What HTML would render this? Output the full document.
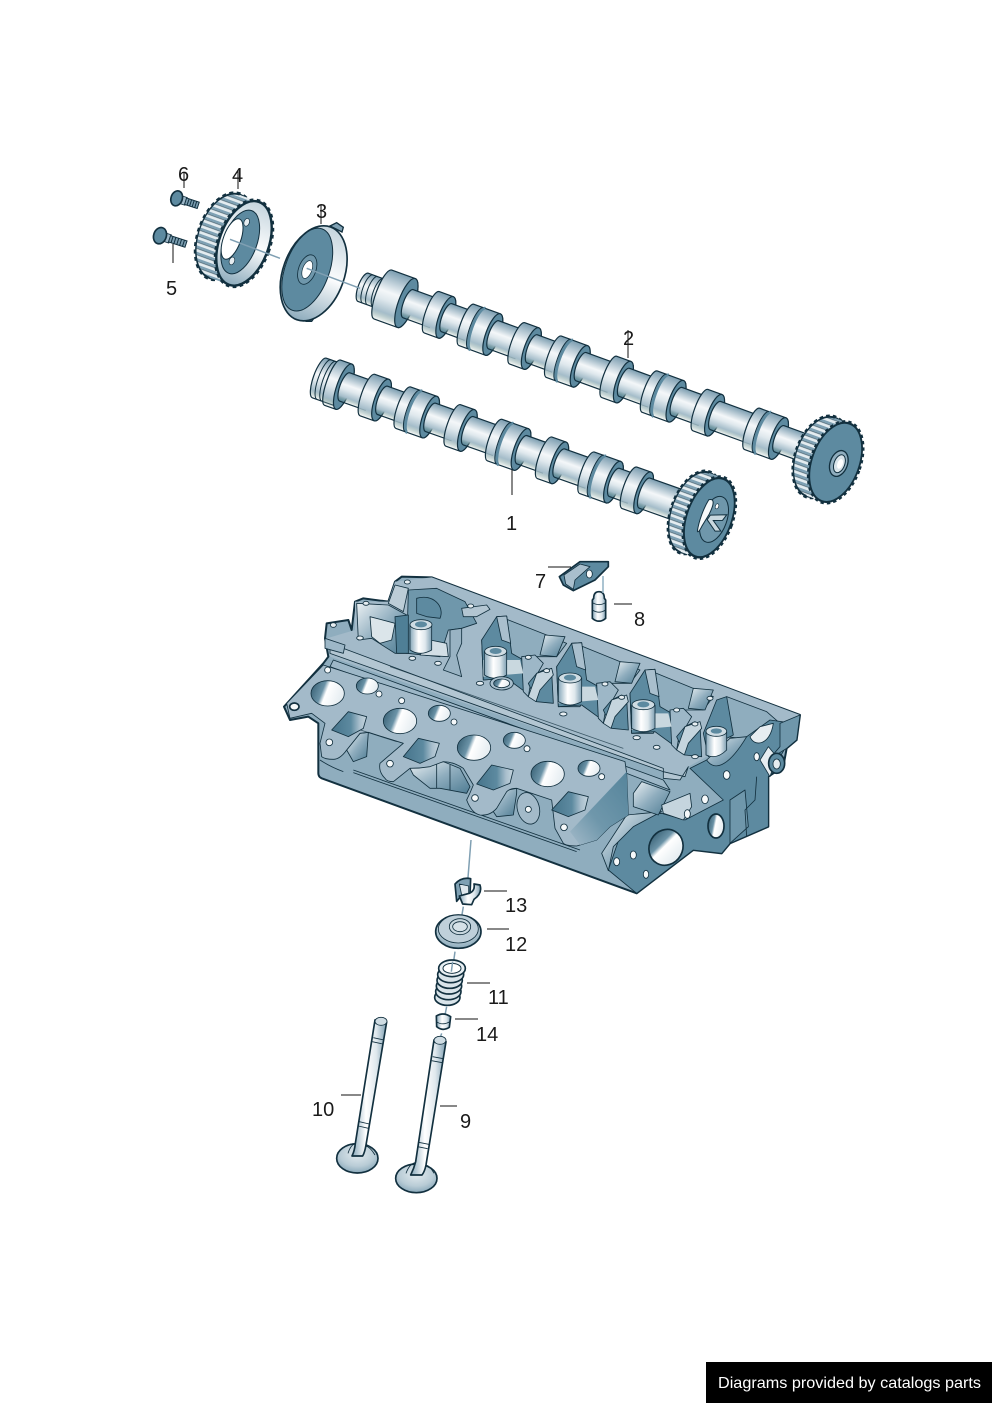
<!DOCTYPE html>
<html><head><meta charset="utf-8"><title>Cylinder head diagram</title>
<style>html,body{margin:0;padding:0;background:#fff}svg{display:block}
text{font-family:"Liberation Sans",sans-serif;fill:#1a1a1a}
.o{stroke:#12303f;stroke-width:5;stroke-linejoin:round}
.t{stroke:#12303f;stroke-width:2.5;stroke-linejoin:round}
.sh{fill:url(#cyl);stroke:#12303f;stroke-width:1.2}
.lo{fill:url(#cyl);stroke:#12303f;stroke-width:1.2}
.rg{fill:#5d8aa0;stroke:#12303f;stroke-width:1.2}
.tn{stroke:#12303f;stroke-width:1;fill:none}
.ln{stroke:#111;stroke-width:1;fill:none}
.cn{stroke:#8fb0c2;stroke-width:1.5;fill:none}
.cz{stroke:#7f9fb2;stroke-width:4.5;fill:none}
</style></head><body>
<svg width="992" height="1403" viewBox="0 0 992 1403" xmlns="http://www.w3.org/2000/svg">
<defs>
<linearGradient id="cyl" x1="0" y1="0" x2="0" y2="1"><stop offset="0" stop-color="#7b9db0"/><stop offset=".2" stop-color="#b5c8d3"/><stop offset=".42" stop-color="#f4f7f9"/><stop offset=".58" stop-color="#dfe8ed"/><stop offset=".82" stop-color="#a5bdca"/><stop offset="1" stop-color="#75998d" stop-opacity="0"/><stop offset="1" stop-color="#6f95a9"/></linearGradient>
<linearGradient id="hz" x1="0" y1="0" x2="1" y2="0"><stop offset="0" stop-color="#88a8ba"/><stop offset=".4" stop-color="#fff"/><stop offset=".7" stop-color="#dfe8ed"/><stop offset="1" stop-color="#7fa0b3"/></linearGradient>
<linearGradient id="hole" x1="0" y1="0" x2="1" y2=".3"><stop offset="0" stop-color="#31596d"/><stop offset=".42" stop-color="#6b93a7"/><stop offset=".55" stop-color="#fff"/><stop offset="1" stop-color="#e7eef2"/></linearGradient>
<linearGradient id="rec" x1="0" y1="0" x2="1" y2="1"><stop offset="0" stop-color="#eaf0f3"/><stop offset=".5" stop-color="#8fadbe"/><stop offset="1" stop-color="#4e7c93"/></linearGradient>
<linearGradient id="rim" x1="0" y1="0" x2="0" y2="1"><stop offset="0" stop-color="#c5d5de"/><stop offset=".5" stop-color="#fbfcfd"/><stop offset="1" stop-color="#8eacbd"/></linearGradient>
<linearGradient id="sq" x1="0" y1="0" x2="1" y2="0"><stop offset="0" stop-color="#46748b"/><stop offset=".55" stop-color="#5d8aa0"/><stop offset=".8" stop-color="#a9bfcd"/><stop offset="1" stop-color="#c5d5de"/></linearGradient>
<linearGradient id="shd" x1="1" y1="0" x2="0" y2="1"><stop offset="0" stop-color="#55849b"/><stop offset=".6" stop-color="#6f97ab"/><stop offset="1" stop-color="#a3bac9"/></linearGradient>
<radialGradient id="vh" cx=".5" cy=".35" r=".7"><stop offset="0" stop-color="#e3ebef"/><stop offset=".6" stop-color="#b9ccd6"/><stop offset="1" stop-color="#7fa1b4"/></radialGradient>
<pattern id="st" width="30" height="18" patternUnits="userSpaceOnUse"><rect width="30" height="18" fill="#e4ecf0"/><rect y="0" width="30" height="8" fill="#7fa1b4"/><rect y="8" width="30" height="1.5" fill="#12303f"/></pattern>
<g id="S"><path class="lo" d="M0,-22h15a7,22 0 0 1 0,44h-15a6,22 0 0 1 0,-44z"/><ellipse class="rg" cx="15" cy="0" rx="7" ry="22"/></g>
<g id="D"><path class="lo" d="M0,-22h28a7,22 0 0 1 0,44h-28a6,22 0 0 1 0,-44z"/><path d="M12,-22a6,22 0 0 0 0,44" stroke="#5d8aa0" stroke-width="3" fill="none"/><path class="tn" d="M10,-22a6,22 0 0 0 0,44"/><ellipse class="rg" cx="28" cy="0" rx="7" ry="22"/></g>
</defs>

<!-- camshaft 2 -->
<g transform="translate(365,288) rotate(20)">
<path class="sh" d="M-2,-15H24V15H-2a5,15 0 0 1 0,-30z"/>
<path class="tn" d="M3,-15a5,15 0 0 0 0,30M8,-15a5,15 0 0 0 0,30M14,-15a5,15 0 0 0 0,30"/>
<path class="lo" d="M19,-26h25a8,26 0 0 1 0,52h-25a7,26 0 0 1 0,-52z"/><ellipse class="rg" cx="44" cy="0" rx="8" ry="26"/>
<path class="sh" d="M46,-15H74V15H46a5,15 0 0 1 0,-30z"/><use href="#S" x="71"/>
<path class="sh" d="M87,-15H111V15H87a5,15 0 0 1 0,-30z"/><use href="#D" x="108"/>
<path class="sh" d="M137,-15H165V15H137a5,15 0 0 1 0,-30z"/><use href="#S" x="162"/>
<path class="sh" d="M178,-15H204V15H178a5,15 0 0 1 0,-30z"/><use href="#D" x="201"/>
<path class="sh" d="M230,-15H263V15H230a5,15 0 0 1 0,-30z"/><use href="#S" x="260"/>
<path class="sh" d="M276,-15H306V15H276a5,15 0 0 1 0,-30z"/><use href="#D" x="303"/>
<path class="sh" d="M332,-15H360V15H332a5,15 0 0 1 0,-30z"/><use href="#S" x="357"/>
<path class="sh" d="M373,-15H415V15H373a5,15 0 0 1 0,-30z"/><use href="#D" x="412"/>
<path class="sh" d="M441,-14H475V14H441a5,14 0 0 1 0,-28z"/>
</g>

<!-- camshaft 1 -->
<g transform="translate(325,380) rotate(19.5)">
<path class="lo" d="M-6,-21h22V21H-6a6,21 0 0 1 0,-42z"/>
<path class="tn" d="M-1,-21a6,21 0 0 0 0,42M4,-21a6,21 0 0 0 0,42"/>
<path class="lo" d="M8,-24h12a7,24 0 0 1 0,48h-12a6,24 0 0 1 0,-48z"/><ellipse class="rg" cx="20" cy="0" rx="7" ry="24"/>
<path class="sh" d="M21,-15H48V15H21a5,15 0 0 1 0,-30z"/><use href="#S" x="45"/>
<path class="sh" d="M61,-15H86V15H61a5,15 0 0 1 0,-30z"/><use href="#D" x="83"/>
<path class="sh" d="M112,-15H139V15H112a5,15 0 0 1 0,-30z"/><use href="#S" x="136"/>
<path class="sh" d="M152,-15H183V15H152a5,15 0 0 1 0,-30z"/><use href="#D" x="180"/>
<path class="sh" d="M209,-15H236V15H209a5,15 0 0 1 0,-30z"/><use href="#S" x="233"/>
<path class="sh" d="M249,-15H281V15H249a5,15 0 0 1 0,-30z"/><use href="#D" x="278"/>
<path class="sh" d="M307,-15H326V15H307a5,15 0 0 1 0,-30z"/><use href="#S" x="323"/>
<path class="sh" d="M339,-16H395V16H339a5,16 0 0 1 0,-32z"/>
</g>

<!-- gears in zoom coords -->
<g transform="translate(640,400) scale(.33333)">
<g transform="translate(587,187) rotate(20)">
<ellipse cx="-48" cy="0" rx="76" ry="128" fill="#12303f" stroke="#12303f" stroke-width="8" stroke-dasharray="11 9"/>
<path d="M-48,-124H0V124H-48z" fill="url(#st)"/>
<ellipse cx="-48" cy="0" rx="72" ry="122" fill="url(#st)"/>
<ellipse cx="0" cy="0" rx="74" ry="127" fill="#12303f" stroke="#12303f" stroke-width="9" stroke-dasharray="10 9"/>
<ellipse cx="0" cy="0" rx="70" ry="122" fill="#5d8aa0" stroke="#12303f" stroke-width="3"/>
<ellipse cx="10" cy="0" rx="26" ry="40" fill="#8fadbe" stroke="#12303f" stroke-width="4"/>
<ellipse cx="12" cy="0" rx="16" ry="28" fill="#d9e4ea" stroke="#12303f" stroke-width="3"/>
<ellipse cx="14" cy="0" rx="8" ry="15" fill="#fff"/>
</g>
<g transform="translate(208,353) rotate(20)">
<ellipse cx="-46" cy="0" rx="72" ry="130" fill="#12303f" stroke="#12303f" stroke-width="8" stroke-dasharray="11 9"/>
<path d="M-46,-126H0V126H-46z" fill="url(#st)"/>
<ellipse cx="-46" cy="0" rx="68" ry="124" fill="url(#st)"/>
<ellipse cx="0" cy="0" rx="70" ry="128" fill="#12303f" stroke="#12303f" stroke-width="9" stroke-dasharray="10 9"/>
<ellipse cx="0" cy="0" rx="66" ry="122" fill="#5d8aa0" stroke="#12303f" stroke-width="3"/>
<ellipse cx="15" cy="0" rx="38" ry="72" fill="#6f97ab" stroke="#12303f" stroke-width="3"/>
<path d="M-20,-50C-5,-60 0,-45 -4,-10L-12,30C-14,50 -18,55 -20,50C-26,20 -26,-20 -20,-50z" fill="#f6f9fa" stroke="#12303f" stroke-width="3"/>
<path d="M0,-8L46,-26L40,-6L14,4L46,26L30,32L-4,8z" fill="#c9d8df" stroke="#12303f" stroke-width="3"/>
<ellipse cx="10" cy="-40" rx="5" ry="8" fill="#fff" stroke="#12303f" stroke-width="2"/>
</g>
</g>

<!-- sprocket, disc, bolts -->
<g transform="translate(140,150) scale(.33333)">
<g transform="translate(312,280) rotate(20)">
<ellipse cx="-62" cy="0" rx="80" ry="136" fill="#12303f" stroke="#12303f" stroke-width="8" stroke-dasharray="12 10"/>
<path d="M-62,-132H0V132H-62z" fill="url(#st)"/>
<ellipse cx="-62" cy="0" rx="76" ry="130" fill="url(#st)"/>
<ellipse cx="0" cy="0" rx="78" ry="136" fill="#12303f" stroke="#12303f" stroke-width="8" stroke-dasharray="11 10"/>
<ellipse cx="0" cy="0" rx="72" ry="130" fill="url(#rim)" stroke="#12303f" stroke-width="3"/>
<ellipse cx="-12" cy="0" rx="50" ry="100" fill="#5d8aa0" stroke="#12303f" stroke-width="3"/>
<ellipse cx="-38" cy="0" rx="26" ry="64" fill="#fff" stroke="#12303f" stroke-width="3"/>
<ellipse cx="-14" cy="-62" rx="8" ry="12" fill="#e6edf1" stroke="#12303f" stroke-width="2"/>
<ellipse cx="-16" cy="62" rx="8" ry="12" fill="#e6edf1" stroke="#12303f" stroke-width="2"/>
</g>
<path class="cz" d="M270,268L420,325"/>
<!-- disc -->
<path d="M570,228L590,218L610,232L606,246z M490,500L525,500L515,514L498,514z" fill="#7fa1b4" stroke="#12303f" stroke-width="4"/>
<g transform="translate(521,370) rotate(20)">
<ellipse cx="0" cy="0" rx="92" ry="148" fill="url(#rim)" stroke="#12303f" stroke-width="5"/>
<ellipse cx="-22" cy="-4" rx="66" ry="130" fill="#5d8aa0" stroke="#12303f" stroke-width="3"/>
<ellipse cx="-22" cy="-4" rx="26" ry="46" fill="#6f97ab" stroke="#12303f" stroke-width="2.5"/>
<ellipse cx="-22" cy="-4" rx="14" ry="28" fill="#fff" stroke="#12303f" stroke-width="2"/>
</g>
<path class="cz" d="M500,355L660,415"/>
<!-- bolts -->
<g transform="translate(110,145) rotate(18)"><rect x="8" y="-12" width="22" height="24" fill="#9db7c7" class="t"/><rect x="28" y="-10" width="40" height="20" fill="#7b9db0" stroke="#12303f" stroke-width="3"/><path d="M36,-10v20M44,-10v20M52,-10v20M60,-10v20" stroke="#12303f" stroke-width="3"/><ellipse cx="0" cy="0" rx="17" ry="23" fill="#5d8aa0" class="o"/></g>
<g transform="translate(60,257) rotate(18)"><rect x="8" y="-13" width="24" height="26" fill="#9db7c7" class="t"/><rect x="30" y="-10" width="52" height="20" fill="#7b9db0" stroke="#12303f" stroke-width="3"/><path d="M38,-10v20M47,-10v20M56,-10v20M65,-10v20M74,-10v20" stroke="#12303f" stroke-width="3"/><ellipse cx="0" cy="0" rx="19" ry="25" fill="#5d8aa0" class="o"/></g>
</g>

<!-- cylinder head -->
<g transform="translate(280,560) scale(.33333)">
<!-- silhouette -->
<path d="M12,440L130,310L145,290L135,235L140,190L205,180L215,210L225,125L250,115L325,125L345,65L365,50L455,52L1560,465L1550,540L1520,565L1510,620L1465,650L1465,800L1350,850L1325,880L1240,870L1070,1000L125,655Q115,650 115,640L115,490L85,470L30,480z" fill="#8fadbe" class="o" style="stroke-width:6"/>
<!-- top deck -->
<path d="M140,235L225,210L225,125L325,125L345,65L455,52L1560,465L1540,490L1470,480L1280,590L1225,620L1215,650L1150,635L150,290z" fill="#a3bac9"/>
<!-- cavity 0 -->
<path d="M385,90L470,85L555,125L590,190L545,205L505,210L480,290L380,280z" fill="#6f97ab" class="t"/>
<path d="M410,115C460,100 495,140 480,175L440,170L410,160z" fill="#5d8aa0" class="t"/>
<path d="M230,130L325,135L380,165L380,280L345,280L275,235L235,240z" fill="url(#rec)" class="t"/>
<path d="M325,130L345,75L385,85L370,155z" fill="#bccdd7" class="t"/>
<path d="M270,170L345,190L335,240L300,250L275,230z" fill="#dbe5ea" class="t"/>
<path d="M345,170L385,165L385,280L350,280z" fill="#4f7f96" class="t"/>
<path d="M545,145L620,135L630,148L590,170L550,170z" fill="#b3c6d2" class="t"/>
<path d="M510,210L545,205L545,250L530,285L545,350L490,330L510,290z" fill="#99b3c3" class="t"/>
<ellipse cx="240" cy="234" rx="10" ry="6" fill="#e7eef2" class="t"/>
<ellipse cx="397" cy="295" rx="10" ry="6" fill="#e7eef2" class="t"/>
<ellipse cx="474" cy="310" rx="10" ry="6" fill="#e7eef2" class="t"/>
<ellipse cx="160" cy="195" rx="9" ry="7" fill="#e7eef2" class="t"/>
<ellipse cx="258" cy="130" rx="9" ry="6" fill="#e7eef2" class="t"/>
<ellipse cx="382" cy="66" rx="9" ry="6" fill="#e7eef2" class="t"/>
<ellipse cx="572" cy="138" rx="9" ry="6" fill="#e7eef2" class="t"/>
<!-- chimney 0 -->
<path d="M450,240L500,250L505,290L420,285z" fill="#d3dfe6" class="t"/>
<path d="M390,195H455V270Q420,290 390,270z" fill="url(#hz)" class="t"/><ellipse cx="423" cy="194" rx="33" ry="15" fill="#cfdce3" class="t"/><ellipse cx="423" cy="193" rx="18" ry="9" fill="#5d8aa0"/>
<!-- repeated cells -->
<g>
<path d="M660,170L800,225L860,250L830,290L740,290L700,310L680,355L610,360L605,240z" fill="#8fadbe" class="t"/>
<path d="M650,170L680,168L695,280L725,297L735,395L680,355L610,360L605,240z" fill="#5d8aa0" class="t"/>
<path d="M650,170L680,168L692,250L665,240z" fill="#a9bfcd" class="t"/>
<path d="M795,225L855,230L830,290L780,285z" fill="url(#rec)" class="t"/>
<path d="M725,290L765,285L790,310L770,345L750,380L745,410L730,395z" fill="#9db7c7" class="t"/>
<path d="M745,370L770,340L800,325L815,335L820,430L770,425z" fill="#5d8aa0" class="t"/>
<path d="M770,340L815,325L820,345L780,390L768,425L745,410z" fill="#c5d5de" class="t"/>
<path d="M680,300L720,300L730,340L610,350L610,300z" fill="#c9d8df"/>
<path d="M613,275H680V345Q645,365 613,345z" fill="url(#hz)" class="t"/><ellipse cx="647" cy="274" rx="33" ry="15" fill="#cfdce3" class="t"/><ellipse cx="647" cy="273" rx="18" ry="9" fill="#5d8aa0"/>
<ellipse cx="665" cy="370" rx="35" ry="20" fill="#a9bfcd" class="t"/><ellipse cx="665" cy="370" rx="24" ry="13" fill="url(#hole)" class="t"/>
<ellipse cx="600" cy="370" rx="11" ry="6" fill="#e7eef2" class="t"/><ellipse cx="850" cy="462" rx="11" ry="6" fill="#e7eef2" class="t"/>
<ellipse cx="745" cy="292" rx="9" ry="6" fill="#e7eef2" class="t"/><ellipse cx="800" cy="332" rx="9" ry="6" fill="#e7eef2" class="t"/>
</g>
<g>
<path d="M885,250L1020,305L1080,330L1050,370L960,370L920,390L900,440L835,440L830,320z" fill="#8fadbe" class="t"/>
<path d="M875,250L905,248L920,360L950,377L960,475L905,435L835,440L830,320z" fill="#5d8aa0" class="t"/>
<path d="M875,250L905,248L917,330L890,320z" fill="#a9bfcd" class="t"/>
<path d="M1020,305L1080,310L1055,370L1005,365z" fill="url(#rec)" class="t"/>
<path d="M950,370L990,365L1015,390L995,425L975,460L970,490L955,475z" fill="#9db7c7" class="t"/>
<path d="M970,450L995,420L1025,405L1040,415L1045,510L995,505z" fill="#5d8aa0" class="t"/>
<path d="M995,420L1040,405L1045,425L1005,470L993,505L970,490z" fill="#c5d5de" class="t"/>
<path d="M905,380L945,380L955,420L835,430L835,380z" fill="#c9d8df"/>
<path d="M835,355H905V425Q870,445 835,425z" fill="url(#hz)" class="t"/><ellipse cx="870" cy="354" rx="34" ry="15" fill="#cfdce3" class="t"/><ellipse cx="870" cy="353" rx="18" ry="9" fill="#5d8aa0"/>
<ellipse cx="975" cy="372" rx="9" ry="6" fill="#e7eef2" class="t"/><ellipse cx="1025" cy="412" rx="9" ry="6" fill="#e7eef2" class="t"/>
<ellipse cx="1070" cy="533" rx="11" ry="6" fill="#e7eef2" class="t"/><ellipse cx="1130" cy="562" rx="10" ry="6" fill="#e7eef2" class="t"/>
</g>
<g>
<path d="M1105,330L1240,385L1300,410L1270,450L1180,450L1140,470L1120,520L1055,520L1050,400z" fill="#8fadbe" class="t"/>
<path d="M1095,330L1125,328L1140,440L1170,457L1180,555L1125,515L1055,520L1050,400z" fill="#5d8aa0" class="t"/>
<path d="M1095,330L1125,328L1137,410L1110,400z" fill="#a9bfcd" class="t"/>
<path d="M1240,385L1300,390L1275,450L1225,445z" fill="url(#rec)" class="t"/>
<path d="M1170,450L1210,445L1235,470L1215,505L1195,540L1190,570L1175,555z" fill="#9db7c7" class="t"/>
<path d="M1190,530L1215,500L1245,485L1260,495L1265,590L1215,585z" fill="#5d8aa0" class="t"/>
<path d="M1215,500L1260,485L1265,505L1225,550L1213,585L1190,570z" fill="#c5d5de" class="t"/>
<path d="M1125,460L1165,460L1175,500L1055,510L1055,460z" fill="#c9d8df"/>
<path d="M1055,435H1125V505Q1090,525 1055,505z" fill="url(#hz)" class="t"/><ellipse cx="1090" cy="434" rx="34" ry="15" fill="#cfdce3" class="t"/><ellipse cx="1090" cy="433" rx="18" ry="9" fill="#5d8aa0"/>
<ellipse cx="1190" cy="450" rx="9" ry="6" fill="#e7eef2" class="t"/><ellipse cx="1245" cy="492" rx="9" ry="6" fill="#e7eef2" class="t"/><ellipse cx="1245" cy="590" rx="10" ry="6" fill="#e7eef2" class="t"/>
<ellipse cx="1290" cy="415" rx="9" ry="6" fill="#e7eef2" class="t"/>
</g>
<!-- end wall cavity -->
<path d="M1340,410L1460,455L1500,490L1490,500L1420,540L1340,530L1310,430z" fill="#8fadbe" class="t"/>
<path d="M1310,420L1340,410L1360,525L1340,535L1285,590L1270,520z" fill="#5d8aa0" class="t"/>
<!-- right end -->
<path d="M1230,625L1280,600L1400,530L1470,480L1540,490L1530,540L1465,650L1465,800L1350,850L1325,880L1240,870L1070,1000L985,930L1040,770L1145,760L1215,780L1330,720z" fill="#5d8aa0" class="t"/>
<path d="M965,880L1040,765L1145,755L1060,800L1000,860L985,932z" fill="url(#rec)" class="t"/>
<path d="M1280,600C1300,630 1340,630 1400,530L1350,535z" fill="url(#rec)" class="t"/>
<path d="M1410,530C1420,560 1470,560 1480,490L1440,500z" fill="#e6edf1" class="t"/>
<path d="M1278,515H1340V570Q1310,600 1278,585z" fill="url(#hz)" class="t"/><ellipse cx="1309" cy="514" rx="31" ry="15" fill="#cfdce3" class="t"/><ellipse cx="1309" cy="513" rx="17" ry="8" fill="#5d8aa0"/>
<path d="M1500,490L1560,465L1550,540L1520,565L1465,600L1500,560z" fill="#6f97ab" class="t"/>
<path d="M1440,600L1465,560L1490,590L1470,650z" fill="#e6edf1" class="t"/>
<ellipse cx="1490" cy="610" rx="24" ry="30" fill="#5d8aa0" class="o"/><ellipse cx="1490" cy="612" rx="11" ry="15" fill="#e6edf1" class="t"/>
<path d="M1350,720L1395,690L1405,800L1350,850z" fill="#6f97ab" class="t"/>
<path d="M1430,650L1425,720L1395,750L1400,830" class="t" fill="none"/>
<!-- rail front -->
<path d="M150,250L1150,625L1150,655L1200,660L1225,620L1215,650L1150,635L150,280z" fill="#b3c6d2" class="t"/>
<path d="M135,235L195,255L190,280L135,265z" fill="#9db7c7" class="t"/>
<path d="M160,300L1150,660L1170,690L1040,640L150,320z" fill="#9db7c7" class="t"/>
<!-- block stack detail -->
<path d="M1060,700L1085,665L1170,695L1145,745L1135,765L1060,740z" fill="url(#rec)" class="t"/>
<path d="M1145,735L1230,700L1235,740L1210,780L1150,760z" fill="#c5d5de" class="t"/>
<ellipse cx="1340" cy="645" rx="10" ry="13" fill="#f6f9fa" class="t"/><ellipse cx="1275" cy="718" rx="10" ry="13" fill="#f6f9fa" class="t"/><ellipse cx="1222" cy="762" rx="9" ry="13" fill="#f6f9fa" class="t"/><ellipse cx="1430" cy="590" rx="8" ry="12" fill="#f6f9fa" class="t"/>
<ellipse cx="1158" cy="862" rx="50" ry="55" transform="rotate(30 1158 862)" fill="url(#hole)" class="o"/>
<ellipse cx="1308" cy="798" rx="24" ry="36" fill="url(#hole)" class="o"/>
<ellipse cx="1010" cy="905" rx="9" ry="12" fill="#f6f9fa" class="t"/><ellipse cx="1060" cy="885" rx="9" ry="12" fill="#f6f9fa" class="t"/><ellipse cx="1098" cy="943" rx="8" ry="12" fill="#f6f9fa" class="t"/>
<!-- lower body lines -->
<path d="M220,630L900,870M220,638L890,875M120,600Q150,620 190,635" class="t" fill="none"/>
<!-- recesses below flange -->
<path d="M240,520L265,517L260,590L220,605L200,570z" fill="url(#rec)" class="t"/>
<path d="M390,625L490,605L540,625L570,680L560,700L480,685L450,685L400,645z" fill="url(#rec)" class="t"/>
<path d="M470,610V685M510,615V690" class="t" fill="none"/>
<path d="M685,690L710,685L710,700L700,765L650,770L630,740z" fill="url(#rec)" class="t"/>
<!-- intake flange -->
<path d="M20,430L130,315L1035,605L1040,640L1045,765L990,800L950,840L890,858Q860,858 850,850L825,805L815,720L710,685Q690,685 680,695L650,745Q630,768 600,765Q575,760 560,720Q570,700 580,675L550,625Q520,605 490,605L450,620Q420,625 390,625L340,665Q320,665 315,655Q295,635 300,610L370,550L265,517L240,520L200,570Q180,598 160,598Q135,598 125,590L120,550L135,490L95,460L30,475z" fill="#a3bac9" class="t"/>
<path d="M1040,635L1045,765L990,800L950,840L900,855L870,815z" fill="url(#shd)"/>
<path d="M330,320L1030,565M210,500L350,545" class="t" fill="none" opacity=".7"/>
<ellipse cx="745" cy="745" rx="33" ry="48" transform="rotate(-15 745 745)" fill="#a3bac9" class="t"/>
<!-- ports -->
<ellipse cx="143" cy="400" rx="50" ry="38" fill="url(#hole)" class="t"/>
<ellipse cx="360" cy="483" rx="50" ry="38" fill="url(#hole)" class="t"/>
<ellipse cx="582" cy="563" rx="50" ry="38" fill="url(#hole)" class="t"/>
<ellipse cx="803" cy="642" rx="50" ry="38" fill="url(#hole)" class="t"/>
<ellipse cx="262" cy="378" rx="33" ry="24" fill="url(#hole)" class="t"/>
<ellipse cx="478" cy="460" rx="33" ry="24" fill="url(#hole)" class="t"/>
<ellipse cx="703" cy="541" rx="33" ry="24" fill="url(#hole)" class="t"/>
<ellipse cx="927" cy="625" rx="33" ry="24" fill="url(#hole)" class="t"/>
<path d="M155,510L205,455L260,470L250,505L205,530z" fill="url(#sq)" class="t"/>
<path d="M370,590L415,535L478,550L465,590L420,610z" fill="url(#sq)" class="t"/>
<path d="M590,672L635,615L700,630L690,670L640,690z" fill="url(#sq)" class="t"/>
<path d="M815,750L865,695L925,710L915,750L865,770z" fill="url(#sq)" class="t"/>
<g fill="#f6f9fa" class="t">
<circle cx="297" cy="402" r="9"/><circle cx="522" cy="486" r="9"/><circle cx="741" cy="566" r="9"/><circle cx="965" cy="650" r="9"/>
<circle cx="143" cy="330" r="9"/><circle cx="365" cy="422" r="9"/><circle cx="148" cy="547" r="10"/><circle cx="330" cy="611" r="10"/><circle cx="585" cy="714" r="10"/><circle cx="745" cy="748" r="9"/><circle cx="852" cy="802" r="10"/>
</g>
<ellipse cx="43" cy="440" rx="14" ry="11" fill="#f6f9fa" class="o"/>
<!-- parts 7 and 8 -->
<path d="M838,50L900,5L985,5L985,20L945,60L880,92L850,75z" fill="#5d8aa0" class="o"/>
<path d="M852,45L900,12L930,20L885,60L880,88L857,72z" fill="#a9bfcd" class="t"/>
<ellipse cx="928" cy="42" rx="9" ry="12" fill="#f6f9fa" class="t"/>
<path d="M941,115Q941,95 957,95Q973,95 973,115L977,120V175Q957,192 937,175V120z" fill="url(#hz)" class="o"/>
<path d="M937,128Q957,140 977,128M937,150Q957,163 977,150" class="t" fill="none"/>
</g>
<path class="cn" d="M603,576V593"/>

<!-- valves & small parts -->
<g transform="translate(320,860) scale(.33333)">
<path class="cz" d="M453,-60L443,65M430,140L420,200M405,275L398,325M380,440L375,465M365,520L360,535"/>
<!-- 13 -->
<path d="M405,72Q425,50 452,56L450,105L420,112L410,124z" fill="#7fa1b4" class="o"/>
<path d="M418,72L446,78V100L425,105z" fill="#dfe8ed" class="t"/>
<path d="M418,108L448,100Q466,92 462,72L480,75Q488,100 462,118L455,134L428,132z" fill="url(#hz)" class="o"/>
<!-- 12 -->
<ellipse cx="415" cy="215" rx="68" ry="50" fill="url(#vh)" class="o"/>
<ellipse cx="415" cy="207" rx="60" ry="42" fill="#bfd0da" class="t"/>
<ellipse cx="420" cy="200" rx="32" ry="24" fill="#c9d8df" class="t"/>
<ellipse cx="420" cy="200" rx="22" ry="15" fill="#d5e1e7" class="t"/>
<!-- 11 -->
<g fill="#d9e4ea" stroke="#12303f" stroke-width="5">
<ellipse cx="382" cy="412" rx="38" ry="24"/><ellipse cx="385" cy="395" rx="38" ry="24"/><ellipse cx="387" cy="378" rx="38" ry="24"/><ellipse cx="389" cy="361" rx="38" ry="24"/><ellipse cx="392" cy="344" rx="39" ry="24"/><ellipse cx="396" cy="325" rx="40" ry="25" fill="#e8eff3"/><ellipse cx="396" cy="325" rx="27" ry="15" fill="#fff" stroke-width="3"/>
</g>
<path class="cz" d="M398,305L394,335"/>
<!-- 14 -->
<path d="M349,468Q370,455 392,470L388,502Q367,515 350,500z" fill="url(#hz)" class="o"/><path d="M349,485Q368,498 390,485" class="t" fill="none"/>
<!-- 10 -->
<ellipse cx="112" cy="895" rx="62" ry="44" fill="url(#vh)" class="o"/>
<path d="M165,480L200,486L138,855Q134,878 128,888H96Q104,872 106,850z" fill="url(#hz)" class="o"/>
<path d="M84,880Q92,855 104,852M165,885Q150,860 136,858" class="t" fill="none"/>
<ellipse cx="183" cy="484" rx="18" ry="12" fill="#cfdce3" class="t"/><path d="M160,533L192,540M157,545L188,552M118,785L148,792M115,798L145,805" class="t" fill="none"/>
<!-- 9 -->
<ellipse cx="289" cy="955" rx="62" ry="43" fill="url(#vh)" class="o"/>
<path d="M342,540L378,545L318,915Q314,935 306,945H272Q282,925 287,905z" fill="url(#hz)" class="o"/>
<path d="M258,940Q268,912 285,908M342,940Q330,918 318,915" class="t" fill="none"/>
<ellipse cx="360" cy="541" rx="18" ry="12" fill="#cfdce3" class="t"/><path d="M338,590L370,596M335,602L367,608M296,847L326,853M293,860L323,866" class="t" fill="none"/>
</g>

<!-- leader lines -->
<path class="ln" d="M184,172V188M238,170V189M321,205V224M173,244V263M628,330V358M512,470V495M548,567H571M614,604H632M484,891H507M487,929H509M467,983H490M455,1019H478M341,1095H361M440,1106H457"/>

<!-- labels -->
<g font-size="20">
<text x="178" y="181">6</text><text x="232" y="182">4</text><text x="316" y="218">3</text><text x="166" y="295">5</text>
<text x="623" y="345">2</text><text x="506" y="530">1</text><text x="535" y="588">7</text><text x="634" y="626">8</text>
<text x="505" y="912">13</text><text x="505" y="951">12</text><text x="488" y="1004">11</text><text x="476" y="1041">14</text>
<text x="312" y="1116">10</text><text x="460" y="1128">9</text>
</g>

<rect x="706" y="1362" width="286" height="41" fill="#000"/>
<text x="718" y="1388" font-size="16" style="fill:#fff" textLength="263" lengthAdjust="spacingAndGlyphs">Diagrams provided by catalogs parts</text>
</svg>
</body></html>
